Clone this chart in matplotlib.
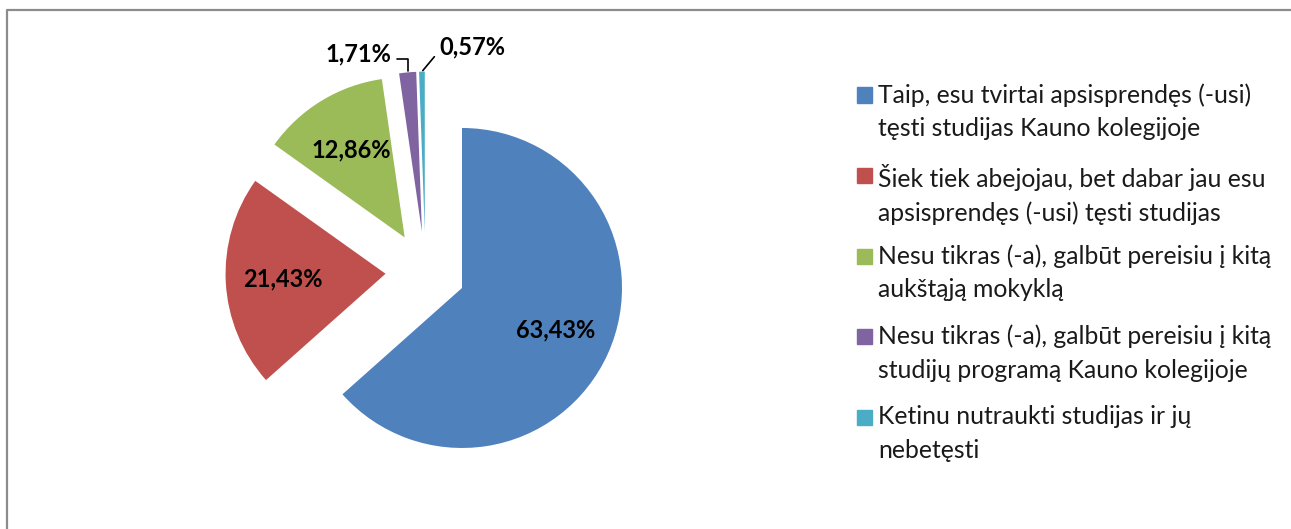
import matplotlib
matplotlib.use("Agg")
from matplotlib import pyplot
from matplotlib.patches import Rectangle
import numpy as np

categories = [
    "Taip, esu tvirtai apsisprendęs (-usi)\ntęsti studijas Kauno kolegijoje",
    "Šiek tiek abejojau, bet dabar jau esu\napsisprendęs (-usi) tęsti studijas",
    "Nesu tikras (-a), galbūt pereisiu į kitą\naukštąją mokyklą",
    "Nesu tikras (-a), galbūt pereisiu į kitą\nstudijų programą Kauno kolegijoje",
    "Ketinu nutraukti studijas ir jų\nnebetęsti",
]
values = [63.43, 21.43, 12.86, 1.71, 0.57]
colors = ["#4F81BD", "#C0504D", "#9BBB59", "#8064A2", "#4BACC6"]

W, H = 1291, 529
DPI = 100

pyplot.rcParams["font.family"] = ["Lato", "DejaVu Sans"]

fig = pyplot.figure(figsize=(W / DPI, H / DPI), dpi=DPI)

# pie centre at (425.5, 271.6) px, radius 160 px
cx, cy, r = 425.5, 271.6, 160.0
ax = fig.add_axes([0, 0, 1, 1])


def pct(v):
    return "{:.2f}%".format(v).replace(".", ",")


wedges, _ = ax.pie(values, colors=colors, startangle=90, counterclock=False,
                   explode=[0.25] * len(values), radius=1.0,
                   wedgeprops=dict(linewidth=0))
# pie() resets the limits, so set them afterwards
ax.set_xlim(-cx / r, (W - cx) / r)
ax.set_ylim(-(H - cy) / r, cy / r)
ax.set_aspect("auto")
ax.axis("off")

# labels inside the big slices
for w, v in zip(wedges[:3], values[:3]):
    mid = np.deg2rad((w.theta1 + w.theta2) / 2)
    x0, y0 = w.center
    ax.text(x0 + 0.64 * np.cos(mid), y0 + 0.64 * np.sin(mid), pct(v),
            ha="center", va="center", fontsize=17, fontweight="bold")

# small slices: labels outside with leader lines
small = [(wedges[3], values[3], (-12, 13), "right", "angle,angleA=0,angleB=90,rad=0", (1, 0.3)),
         (wedges[4], values[4], (36, 18), "center", "arc3", (0, 0.3))]
for w, v, off, ha, conn, rp in small:
    mid = np.deg2rad((w.theta1 + w.theta2) / 2)
    x0, y0 = w.center
    pt = (x0 + np.cos(mid), y0 + np.sin(mid))
    ax.annotate(pct(v), xy=pt, xytext=off, textcoords="offset points",
                ha=ha, va="center", fontsize=17, fontweight="bold",
                arrowprops=dict(arrowstyle="-", color="black", lw=1.2,
                                connectionstyle=conn, relpos=rp,
                                shrinkA=2, shrinkB=1))

# legend
lx, ly0, step = 857, 95, 80.6
for i, (lab, col) in enumerate(zip(categories, colors)):
    y = ly0 + i * step
    fig.patches.append(Rectangle((lx / W, 1 - (y + 7.5) / H), 15 / W, 15 / H,
                                 transform=fig.transFigure, color=col))
    fig.text((lx + 21) / W, 1 - (y - 12) / H, lab, ha="left", va="top",
             fontsize=17.8, linespacing=1.55, color="#1a1a1a")

# chart frame (only top and left visible)
fig.lines.append(pyplot.Line2D([7 / W, 7 / W, 1], [0, 1 - 10 / H, 1 - 10 / H],
                               transform=fig.transFigure, color="#8c8c8c", lw=1.6))

fig.savefig("out.png", dpi=DPI)
